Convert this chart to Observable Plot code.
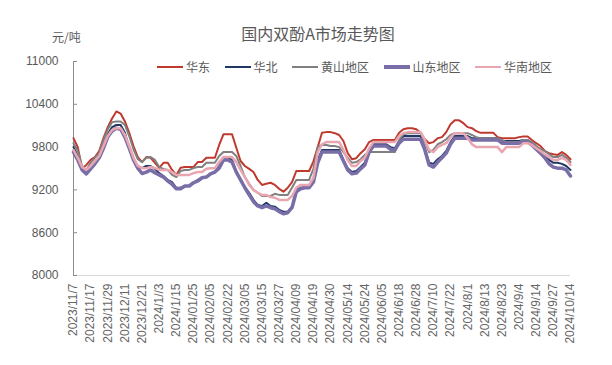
<!DOCTYPE html>
<html><head><meta charset="utf-8">
<script src="https://cdn.jsdelivr.net/npm/d3@7"></script>
<script src="https://cdn.jsdelivr.net/npm/@observablehq/plot@0.6"></script>
<style>
body{margin:0;background:#fff;}
#wrap{position:relative;width:612px;height:365px;font-family:"Liberation Sans","Noto Sans CJK SC",sans-serif;color:#595959;overflow:hidden;}
#title{position:absolute;left:0;width:636px;top:23px;text-align:center;font-size:16px;line-height:20px;font-family:"Noto Sans CJK SC",sans-serif;color:#595959;}
#unit{position:absolute;left:52px;top:29px;font-size:12px;line-height:16px;font-family:"Noto Sans CJK SC",sans-serif;}
#legend{position:absolute;left:157px;top:59px;display:flex;gap:14.5px;font-size:12px;line-height:16px;font-family:"Noto Sans CJK SC",sans-serif;}
#legend .it{display:flex;align-items:center;}
#legend .sw{width:26px;margin-right:3px;}
#chart{position:absolute;left:0;top:0;}
</style></head>
<body>
<div id="wrap">
  <div id="chart"></div>
  <div id="title"></div>
  <div id="unit"></div>
  <div id="legend"></div>
</div>
<script>
const titleText = "国内双酚A市场走势图";
const unitText = "元/吨";
const xLabels = ["2023/11/7","2023/11/17","2023/11/29","2023/12/11","2023/12/21","2024/1//3","2024/1/15","2024/01/25","2024/02/05","2024/02/22","2024/03/05","2024/03/15","2024/03/27","2024/04/09","2024/04/19","2024/04/30","2024/05/14","2024/05/24","2024/06/05","2024/6/18","2024/6/28","2024/7/10","2024/7/22","2024/8/1","2024/8/13","2024/8/23","2024/9/4","2024/9/14","2024/9/27","2024/10/14"];
const yTicks = [8000,8600,9200,9800,10400,11000];
const seriesNames = ["华东","华北","黄山地区","山东地区","华南地区"];

const huadong = [9925,9800,9500,9550,9620,9660,9745,9925,10080,10200,10300,10270,10160,10000,9815,9660,9590,9660,9650,9580,9510,9580,9580,9480,9410,9510,9520,9520,9520,9590,9590,9650,9650,9650,9830,9980,9980,9980,9790,9605,9535,9495,9450,9340,9270,9285,9300,9270,9215,9175,9230,9310,9465,9465,9465,9465,9600,9800,10000,10010,10010,9995,9970,9885,9715,9630,9645,9715,9770,9870,9900,9900,9900,9900,9900,9900,10000,10050,10065,10065,10050,10000,9910,9855,9870,9925,9940,10010,10120,10175,10175,10135,10080,10065,10025,10000,10000,10000,10000,9940,9925,9925,9925,9925,9940,9950,9950,9900,9855,9815,9745,9715,9700,9690,9730,9690,9630];
const huabei = [9800,9675,9505,9450,9520,9590,9660,9815,9980,10080,10110,10110,10000,9785,9620,9535,9505,9535,9535,9495,9435,9395,9340,9310,9230,9230,9255,9255,9300,9340,9370,9380,9435,9450,9535,9650,9650,9620,9450,9340,9240,9160,9060,8990,8975,9020,8975,8965,8920,8895,8895,8965,9200,9230,9240,9240,9340,9620,9760,9760,9760,9760,9760,9620,9505,9450,9465,9520,9580,9760,9840,9840,9840,9840,9800,9785,9885,9955,9955,9955,9955,9955,9785,9580,9565,9630,9675,9745,9870,9955,9955,9955,9955,9925,9925,9925,9925,9925,9925,9925,9885,9885,9885,9885,9885,9900,9900,9855,9800,9745,9675,9620,9580,9580,9565,9535,9480];
const huangshan = [9855,9745,9535,9480,9580,9650,9715,9900,10050,10150,10160,10160,10110,9955,9770,9630,9590,9650,9660,9620,9520,9495,9480,9410,9380,9465,9480,9480,9505,9520,9520,9580,9580,9580,9675,9730,9730,9730,9675,9535,9380,9285,9200,9160,9115,9115,9115,9145,9130,9130,9130,9230,9340,9340,9340,9340,9500,9800,9830,9830,9815,9815,9800,9730,9650,9580,9590,9630,9690,9730,9730,9730,9730,9730,9730,9730,9900,9980,9995,9995,9995,9995,9870,9730,9760,9840,9870,9910,9970,9995,9995,9995,9995,9970,9940,9925,9925,9925,9925,9925,9900,9870,9870,9870,9870,9900,9900,9870,9815,9770,9745,9700,9660,9660,9690,9650,9590];
const shandong = [9730,9620,9480,9425,9495,9565,9650,9785,9940,10025,10065,10050,9940,9785,9620,9505,9430,9450,9480,9440,9410,9380,9325,9280,9215,9215,9255,9255,9300,9325,9370,9380,9425,9450,9505,9620,9620,9590,9450,9340,9230,9130,9035,8975,8950,8975,8950,8935,8895,8865,8880,8950,9175,9215,9230,9230,9310,9580,9730,9730,9730,9730,9730,9605,9480,9425,9435,9495,9550,9730,9815,9815,9815,9815,9770,9760,9855,9910,9910,9910,9910,9910,9760,9550,9520,9590,9650,9715,9840,9925,9925,9925,9925,9900,9900,9900,9900,9900,9900,9900,9855,9855,9855,9855,9855,9870,9870,9830,9770,9715,9650,9565,9520,9505,9505,9480,9395];
const huanan = [9760,9650,9520,9480,9535,9605,9675,9815,9955,10040,10065,10065,9970,9815,9650,9535,9505,9505,9520,9505,9480,9480,9480,9450,9410,9410,9410,9410,9435,9450,9450,9495,9505,9505,9590,9660,9660,9660,9590,9480,9380,9270,9200,9160,9130,9130,9100,9090,9060,9060,9060,9115,9230,9270,9270,9270,9370,9730,9840,9870,9870,9870,9870,9760,9620,9535,9535,9605,9650,9785,9870,9870,9870,9870,9870,9870,9955,9995,10010,10010,10010,10010,9900,9760,9730,9800,9830,9855,9940,9995,9995,9995,9925,9840,9800,9800,9800,9800,9800,9800,9730,9800,9800,9800,9800,9855,9855,9830,9785,9745,9700,9660,9620,9620,9650,9620,9550];

const seriesValues = [huadong, huabei, huangshan, shandong, huanan];
const colors = ["#c0392f","#1f3864","#808080","#7a6ea8","#e9a6b1"];
const widths = [2, 2, 2, 3.5, 2.5];

const step = (huadong.length - 1) / (xLabels.length - 1);
const toRows = vals => vals.map((v, i) => ({i, v}));

document.getElementById("title").textContent = titleText;
document.getElementById("unit").textContent = unitText;
const leg = document.getElementById("legend");
seriesNames.forEach((n, k) => {
  const it = document.createElement("div"); it.className = "it";
  const sw = document.createElement("div"); sw.className = "sw";
  sw.style.height = (k === 3 ? 3.5 : 2.5) + "px"; sw.style.background = colors[k];
  const t = document.createElement("span"); t.textContent = n;
  it.appendChild(sw); it.appendChild(t); leg.appendChild(it);
});

const chart = Plot.plot({
  width: 612, height: 365,
  marginLeft: 73, marginRight: 42, marginTop: 61, marginBottom: 90,
  style: {fontFamily: '"Liberation Sans","Noto Sans CJK SC",sans-serif', color: "#595959", background: "transparent"},
  x: {domain: [0, huadong.length - 1]},
  y: {domain: [8000, 11000]},
  marks: [
    Plot.ruleY([8000], {stroke: "#d9d9d9", strokeWidth: 1}),
    Plot.axisY({ticks: yTicks, tickSize: 0, tickPadding: 15, fontSize: 12, color: "#595959", label: null, tickFormat: d => String(d)}),
    Plot.axisY({ticks: yTicks, tickSize: 4, dx: 4, tickFormat: () => "", stroke: "#8c8c8c", label: null}),
    Plot.ruleX([0], {stroke: "#8c8c8c", strokeWidth: 1}),
    Plot.axisX({ticks: xLabels.map((_, k) => k * step), tickFormat: i => xLabels[Math.round(i / step)], tickRotate: -90, tickSize: 0, tickPadding: 8, fontSize: 12, color: "#666666", label: null}),
    ...seriesValues.map((vals, k) => Plot.line(toRows(vals), {x: "i", y: "v", stroke: colors[k], strokeWidth: widths[k], strokeLinejoin: "round"}))
  ]
});
document.getElementById("chart").appendChild(chart);
</script>
</body></html>
